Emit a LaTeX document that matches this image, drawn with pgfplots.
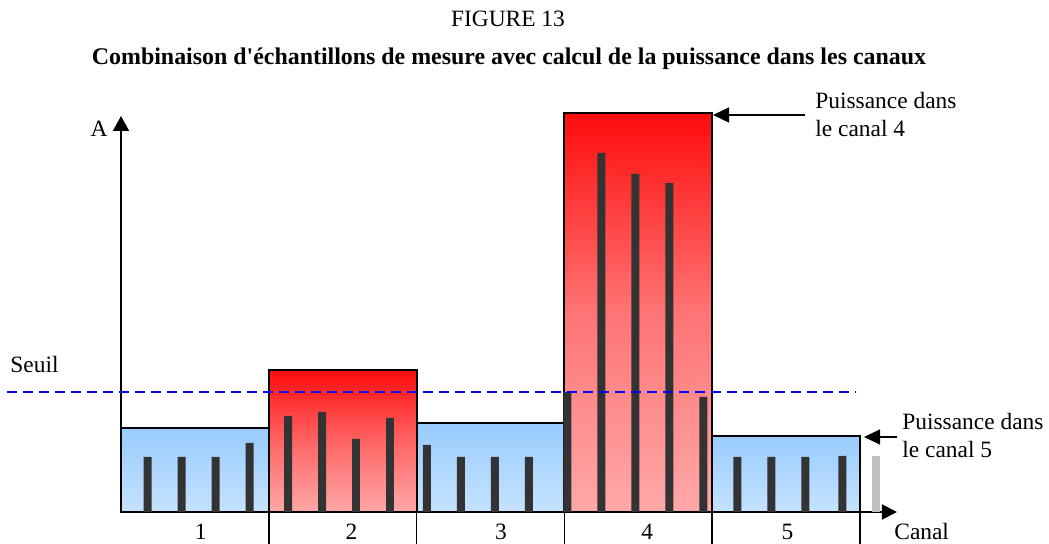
\documentclass[border=0pt]{standalone}
\usepackage{fontspec}
\setmainfont{Liberation Serif}
\usepackage{pgfplots}
\pgfplotsset{compat=1.18}
\usetikzlibrary{arrows.meta}
\definecolor{bluetop}{RGB}{153,204,255}
\definecolor{bluebot}{RGB}{197,226,255}
\definecolor{redtop}{RGB}{255,12,12}
\definecolor{redmid}{RGB}{255,116,116}
\definecolor{redmidb}{RGB}{255,100,100}
\definecolor{redbot}{RGB}{255,168,168}
\definecolor{sample}{RGB}{51,51,51}
\definecolor{greysample}{RGB}{192,192,192}
\newcommand{\ff}{\fontsize{11.7}{14}\selectfont}
\begin{document}
\ff
\begin{tikzpicture}[x=0.5pt,y=-0.5pt]
\useasboundingbox (0,0) rectangle (1049,544);
\begin{axis}[
  at={(60.5pt,-256pt)}, anchor=south west,
  x=73.9pt, y=0.5pt,
  xmin=0, xmax=5.25, ymin=0, ymax=396,
  clip=false,
  axis lines=left,
  axis line style={line width=1pt},
  x axis line style={-{Triangle[length=7.5pt,width=7.5pt]}},
  y axis line style={-{Triangle[length=7.5pt,width=8pt]}},
  ytick=\empty,
  xtick={1,2,3,4,5}, xticklabels={},
  tick align=outside,
  major tick length=16pt,
  tick style={line width=0.8pt, black},
  tick label style={font=\ff},
  extra x ticks={0.54,1.56,2.57,3.56,4.51},
  extra x tick labels={1,2,3,4,5},
  extra x tick style={major tick length=0pt, tick style={draw=none},
     xticklabel style={anchor=base, yshift=-13.5pt, inner sep=0pt}},
]
% channel power boxes
\addplot[ybar, bar shift=0pt, bar width=1, draw=black, line width=1pt,
  top color=bluetop, bottom color=bluebot] coordinates {(0.5,84)};
\addplot[ybar, bar shift=0pt, bar width=1, draw=black, line width=1pt,
  top color=redtop, bottom color=redbot, middle color=redmidb] coordinates {(1.5,142)};
\addplot[ybar, bar shift=0pt, bar width=1, draw=black, line width=1pt,
  top color=bluetop, bottom color=bluebot] coordinates {(2.5,89)};
\addplot[ybar, bar shift=0pt, bar width=1, draw=black, line width=1pt,
  top color=redtop, bottom color=redbot, middle color=redmid] coordinates {(3.5,399)};
\addplot[ybar, bar shift=0pt, bar width=1, draw=black, line width=1pt,
  top color=bluetop, bottom color=bluebot] coordinates {(4.5,76)};
% measurement samples
\addplot[ybar, bar shift=0pt, bar width=0.054, fill=sample, draw=none] coordinates {
  (0.18,55) (0.41,55) (0.64,55) (0.87,69)
  (1.13,96) (1.36,100) (1.59,73) (1.82,94)
  (2.07,67) (2.30,55) (2.53,55) (2.76,55)
  (3.02,120) (3.25,359) (3.48,338) (3.71,329) (3.94,115)
  (4.17,55) (4.40,55) (4.63,55) (4.88,56)
};
\addplot[ybar, bar shift=0pt, bar width=0.054, fill=greysample, draw=none] coordinates {(5.11,56)};
% threshold
\addplot[blue, line width=0.6pt, dash pattern=on 5pt off 3pt] coordinates {(-0.77,120) (4.97,120)};
\end{axis}
\node[anchor=base] at (508,27) {FIGURE 13};
\node[anchor=base] at (509,65) {\fontsize{11.95}{14}\selectfont\bfseries Combinaison d\textquotesingle{}échantillons de mesure avec calcul de la puissance dans les canaux};
\node[anchor=base west, inner sep=0pt] at (10,373) {Seuil};
\node[anchor=base, inner sep=0pt] at (99,137) {A};
\node[anchor=base west, inner sep=0pt] at (894,539) {Canal};
\node[anchor=base west, inner sep=0pt] at (815,109) {Puissance dans};
\node[anchor=base west, inner sep=0pt] at (815,137) {le canal 4};
\node[anchor=base west, inner sep=0pt] at (902,430) {Puissance dans};
\node[anchor=base west, inner sep=0pt] at (902,458) {le canal 5};
\draw[line width=0.6pt, -{Triangle[length=8pt,width=7.5pt]}] (805,115) -- (713,115);
\draw[line width=0.6pt, -{Triangle[length=8pt,width=7.5pt]}] (897,437) -- (864,437);
\end{tikzpicture}
\end{document}
